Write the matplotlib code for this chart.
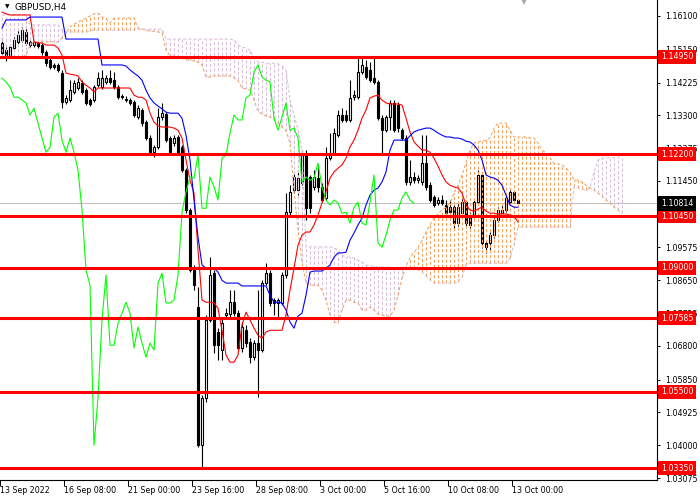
import numpy as np
import matplotlib
matplotlib.use("Agg")
import matplotlib.pyplot as plt

# ---------------- data ----------------
opens = [
    1.1534, 1.1514, 1.1500, 1.1520, 1.1537, 1.1542, 1.1565, 1.1537, 1.1528, 1.1534,
    1.1528, 1.1508, 1.1486, 1.1472, 1.1472, 1.1449, 1.1367, 1.1373, 1.1396, 1.1407,
    1.1421, 1.1401, 1.1373, 1.1373, 1.1415, 1.1410, 1.1424, 1.1435, 1.1429, 1.1410,
    1.1384, 1.1376, 1.1373, 1.1367, 1.1325, 1.1345, 1.1311, 1.1266, 1.1226, 1.1240,
    1.1325, 1.1334, 1.1266, 1.1252, 1.1269, 1.1240, 1.1176, 1.1063, 1.0899, 1.0789,
    1.0400, 1.0533, 1.0753, 1.0885, 1.0719, 1.0668, 1.0767, 1.0770, 1.0803, 1.0772,
    1.0674, 1.0724, 1.0691, 1.0648, 1.0688, 1.0668, 1.0857, 1.0885, 1.0809, 1.0801,
    1.0801, 1.0880, 1.1057, 1.1119, 1.1119, 1.1139, 1.1218, 1.1156, 1.1128, 1.1153,
    1.1128, 1.1097, 1.1209, 1.1224, 1.1274, 1.1331, 1.1331, 1.1317, 1.1381, 1.1381,
    1.1452, 1.1466, 1.1458, 1.1435, 1.1424, 1.1322, 1.1288, 1.1325, 1.1365, 1.1359,
    1.1288, 1.1266, 1.1142, 1.1156, 1.1147, 1.1142, 1.1195, 1.1133, 1.1099, 1.1083,
    1.1091, 1.1077, 1.1071, 1.1071, 1.1026, 1.1054, 1.1085, 1.1049, 1.1049, 1.1085,
    1.1162, 1.0970, 1.0970, 1.0992, 1.1035, 1.1054, 1.1063, 1.1085, 1.1114, 1.1091]

closes = [
    1.1506, 1.1491, 1.1522, 1.1542, 1.1556, 1.1570, 1.1534, 1.1528, 1.1537, 1.1525,
    1.1508, 1.1477, 1.1466, 1.1466, 1.1458, 1.1367, 1.1379, 1.1401, 1.1421, 1.1424,
    1.1396, 1.1365, 1.1362, 1.1410, 1.1435, 1.1435, 1.1435, 1.1424, 1.1410, 1.1381,
    1.1381, 1.1373, 1.1365, 1.1331, 1.1350, 1.1308, 1.1266, 1.1226, 1.1240, 1.1325,
    1.1336, 1.1260, 1.1226, 1.1266, 1.1226, 1.1176, 1.1063, 1.0894, 1.0851, 1.0400,
    1.0533, 1.0753, 1.0880, 1.0682, 1.0682, 1.0744, 1.0772, 1.0803, 1.0772, 1.0674,
    1.0733, 1.0688, 1.0648, 1.0688, 1.0668, 1.0857, 1.0885, 1.0801, 1.0801, 1.0809,
    1.0880, 1.1057, 1.1114, 1.1156, 1.1153, 1.1218, 1.1068, 1.1068, 1.1156, 1.1128,
    1.1091, 1.1209, 1.1218, 1.1280, 1.1331, 1.1317, 1.1317, 1.1379, 1.1387, 1.1452,
    1.1472, 1.1438, 1.1429, 1.1424, 1.1322, 1.1288, 1.1325, 1.1365, 1.1288, 1.1294,
    1.1266, 1.1142, 1.1156, 1.1147, 1.1153, 1.1195, 1.1128, 1.1091, 1.1077, 1.1091,
    1.1083, 1.1054, 1.1057, 1.1026, 1.1071, 1.1085, 1.1026, 1.1021, 1.1085, 1.1162,
    1.0970, 1.0958, 1.0992, 1.1035, 1.1063, 1.1063, 1.1097, 1.1114, 1.1091, 1.10814]

highs = [
    1.1548, 1.1522, 1.1528, 1.1551, 1.1570, 1.1579, 1.1576, 1.1542, 1.1542, 1.1539,
    1.1534, 1.1514, 1.1491, 1.1477, 1.1477, 1.1458, 1.1387, 1.1429, 1.1429, 1.1435,
    1.1429, 1.1407, 1.1379, 1.1415, 1.1452, 1.1458, 1.1444, 1.1458, 1.1452, 1.1415,
    1.1390, 1.1384, 1.1379, 1.1373, 1.1359, 1.1350, 1.1317, 1.1274, 1.1246, 1.1350,
    1.1365, 1.1339, 1.1271, 1.1274, 1.1274, 1.1246, 1.1181, 1.1068, 1.0908, 1.0846,
    1.0541, 1.0767, 1.0930, 1.0894, 1.0730, 1.0758, 1.0786, 1.0837, 1.0837, 1.0781,
    1.0747, 1.0739, 1.0702, 1.0696, 1.0837, 1.0865, 1.0913, 1.0894, 1.0815, 1.0815,
    1.0888, 1.1111, 1.1133, 1.1170, 1.1176, 1.1232, 1.1232, 1.1162, 1.1176, 1.1190,
    1.1139, 1.1240, 1.1280, 1.1294, 1.1345, 1.1350, 1.1345, 1.1429, 1.1401, 1.1491,
    1.1494, 1.1486, 1.1480, 1.1494, 1.1429, 1.1331, 1.1331, 1.1373, 1.1373, 1.1367,
    1.1294, 1.1274, 1.1204, 1.1170, 1.1162, 1.1274, 1.1274, 1.1142, 1.1105, 1.1099,
    1.1105, 1.1091, 1.1091, 1.1077, 1.1083, 1.1097, 1.1091, 1.1057, 1.1091, 1.1176,
    1.1170, 1.0978, 1.1001, 1.1049, 1.1071, 1.1077, 1.1105, 1.1125, 1.1119, 1.1094]

lows = [
    1.1497, 1.1483, 1.1491, 1.1514, 1.1531, 1.1537, 1.1528, 1.1522, 1.1522, 1.1520,
    1.1500, 1.1469, 1.1460, 1.1460, 1.1452, 1.1350, 1.1362, 1.1367, 1.1390, 1.1401,
    1.1390, 1.1359, 1.1356, 1.1367, 1.1410, 1.1404, 1.1418, 1.1418, 1.1404, 1.1376,
    1.1376, 1.1367, 1.1359, 1.1325, 1.1319, 1.1300, 1.1260, 1.1221, 1.1212, 1.1235,
    1.1317, 1.1255, 1.1221, 1.1243, 1.1218, 1.1170, 1.1054, 1.0888, 1.0837, 1.0395,
    1.0335, 1.0521, 1.0747, 1.0660, 1.0640, 1.0640, 1.0758, 1.0758, 1.0764, 1.0668,
    1.0662, 1.0676, 1.0631, 1.0640, 1.0535, 1.0662, 1.0851, 1.0792, 1.0767, 1.0761,
    1.0795, 1.0871, 1.1049, 1.1111, 1.1105, 1.1133, 1.1035, 1.1054, 1.1119, 1.1114,
    1.1085, 1.1091, 1.1204, 1.1218, 1.1269, 1.1311, 1.1311, 1.1311, 1.1373, 1.1376,
    1.1446, 1.1432, 1.1424, 1.1418, 1.1317, 1.1224, 1.1283, 1.1288, 1.1283, 1.1283,
    1.1260, 1.1133, 1.1133, 1.1139, 1.1139, 1.1133, 1.1119, 1.1085, 1.1071, 1.1077,
    1.1077, 1.1043, 1.1049, 1.1012, 1.1018, 1.1049, 1.1018, 1.1012, 1.1040, 1.1080,
    1.0956, 1.0942, 1.0950, 1.0984, 1.1029, 1.1049, 1.1057, 1.1080, 1.1083, 1.1080]

tenkan = [
    1.1621, 1.1616, 1.1613, 1.1613, 1.1613, 1.1613, 1.1613, 1.1613, 1.1537, 1.1534,
    1.1534, 1.1528, 1.1528, 1.1528, 1.1520, 1.1500, 1.1449, 1.1446, 1.1444, 1.1441,
    1.1424, 1.1415, 1.1407, 1.1396, 1.1407, 1.1407, 1.1407, 1.1407, 1.1407, 1.1407,
    1.1407, 1.1407, 1.1407, 1.1387, 1.1381, 1.1381, 1.1373, 1.1336, 1.1311, 1.1300,
    1.1297, 1.1297, 1.1297, 1.1294, 1.1288, 1.1266, 1.1204, 1.1147, 1.1111, 1.0950,
    1.0809, 1.0803, 1.0803, 1.0801, 1.0786, 1.0724, 1.0654, 1.0634, 1.0634, 1.0654,
    1.0739, 1.0775, 1.0753, 1.0730, 1.0710, 1.0702, 1.0719, 1.0724, 1.0724, 1.0724,
    1.0724, 1.0767, 1.0837, 1.0899, 1.0964, 1.0992, 1.1001, 1.1001, 1.1021, 1.1049,
    1.1083, 1.1114, 1.1153, 1.1170, 1.1181, 1.1190, 1.1209, 1.1241, 1.1260, 1.1288,
    1.1322, 1.1345, 1.1379, 1.1384, 1.1387, 1.1373, 1.1365, 1.1362, 1.1362, 1.1362,
    1.1359, 1.1322, 1.1283, 1.1255, 1.1243, 1.1232, 1.1232, 1.1226, 1.1209, 1.1187,
    1.1162, 1.1142, 1.1133, 1.1128, 1.1125, 1.1111, 1.1077, 1.1063, 1.1060, 1.1066,
    1.1071, 1.1060, 1.1054, 1.1054, 1.1052, 1.1052, 1.1052, 1.1049, 1.1046, 1.1029]

kijun = [
    1.1576, 1.1599, 1.1599, 1.1599, 1.1599, 1.1599, 1.1599, 1.1607, 1.1607, 1.1607,
    1.1607, 1.1607, 1.1607, 1.1607, 1.1607, 1.1607, 1.1545, 1.1545, 1.1545, 1.1545,
    1.1545, 1.1545, 1.1545, 1.1545, 1.1545, 1.1472, 1.1472, 1.1472, 1.1472, 1.1472,
    1.1472, 1.1469, 1.1458, 1.1449, 1.1441, 1.1429, 1.1401, 1.1379, 1.1365, 1.1356,
    1.1348, 1.1339, 1.1336, 1.1336, 1.1336, 1.1322, 1.1274, 1.1204, 1.1091, 1.0987,
    1.0908, 1.0899, 1.0899, 1.0899, 1.0888, 1.0865, 1.0857, 1.0857, 1.0857, 1.0857,
    1.0849, 1.0849, 1.0849, 1.0849, 1.0849, 1.0849, 1.0849, 1.0823, 1.0803, 1.0803,
    1.0801, 1.0781, 1.0747, 1.0730, 1.0764, 1.0772, 1.0823, 1.0888, 1.0891, 1.0891,
    1.0891, 1.0899, 1.0908, 1.0930, 1.0942, 1.0942, 1.0944, 1.0978, 1.0998, 1.1021,
    1.1040, 1.1077, 1.1105, 1.1119, 1.1125, 1.1142, 1.1170, 1.1232, 1.1260, 1.1260,
    1.1260, 1.1260, 1.1272, 1.1283, 1.1288, 1.1291, 1.1294, 1.1294, 1.1288, 1.1280,
    1.1274, 1.1269, 1.1269, 1.1266, 1.1266, 1.1263, 1.1257, 1.1255, 1.1246, 1.1232,
    1.1204, 1.1162, 1.1156, 1.1153, 1.1147, 1.1133, 1.1105, 1.1077, 1.1071, 1.1071]

span_a = [
    1.1494, 1.1494, 1.1494, 1.1494, 1.1494, 1.1494, 1.1500, 1.1528, 1.1537, 1.1537,
    1.1537, 1.1537, 1.1537, 1.1537, 1.1537, 1.1548, 1.1562, 1.1579, 1.1587, 1.1593,
    1.1599, 1.1604, 1.1610, 1.1616, 1.1618, 1.1607, 1.1604, 1.1590, 1.1604, 1.1604,
    1.1604, 1.1604, 1.1604, 1.1604, 1.1576, 1.1573, 1.1570, 1.1567, 1.1567, 1.1565,
    1.1562, 1.1514, 1.1497, 1.1497, 1.1494, 1.1491, 1.1486, 1.1486, 1.1483, 1.1480,
    1.1472, 1.1438, 1.1438, 1.1441, 1.1441, 1.1441, 1.1441, 1.1441, 1.1435, 1.1429,
    1.1407, 1.1404, 1.1401, 1.1373, 1.1342, 1.1334, 1.1328, 1.1325, 1.1319, 1.1308,
    1.1297, 1.1286, 1.1252, 1.1119, 1.1007, 1.0916, 1.0857, 1.0851, 1.0851, 1.0851,
    1.0837, 1.0809, 1.0767, 1.0747, 1.0744, 1.0781, 1.0809, 1.0809, 1.0803, 1.0801,
    1.0781, 1.0781, 1.0789, 1.0781, 1.0770, 1.0767, 1.0764, 1.0764, 1.0781, 1.0823,
    1.0871, 1.0905, 1.0928, 1.0944, 1.0956, 1.0978, 1.1001, 1.1021, 1.1040, 1.1052,
    1.1063, 1.1071, 1.1083, 1.1111, 1.1133, 1.1162, 1.1195, 1.1232, 1.1252, 1.1255,
    1.1257, 1.1260, 1.1266, 1.1294, 1.1308, 1.1308, 1.1308, 1.1288, 1.1269, 1.1269,
    1.1269, 1.1269, 1.1266, 1.1266, 1.1252, 1.1232, 1.1224, 1.1210, 1.1195, 1.1193,
    1.1190, 1.1181, 1.1170, 1.1147, 1.1147, 1.1142, 1.1133, 1.1125, 1.1119, 1.1111,
    1.1102, 1.1091, 1.1083, 1.1071, 1.1063, 1.1054]

span_b = [
    1.1613, 1.1613, 1.1613, 1.1613, 1.1613, 1.1613, 1.1613, 1.1585, 1.1585, 1.1585,
    1.1585, 1.1585, 1.1585, 1.1585, 1.1585, 1.1570, 1.1565, 1.1565, 1.1565, 1.1565,
    1.1565, 1.1565, 1.1568, 1.1570, 1.1570, 1.1570, 1.1570, 1.1570, 1.1570, 1.1570,
    1.1570, 1.1570, 1.1570, 1.1570, 1.1573, 1.1573, 1.1573, 1.1573, 1.1573, 1.1573,
    1.1573, 1.1545, 1.1545, 1.1545, 1.1545, 1.1545, 1.1545, 1.1545, 1.1545, 1.1545,
    1.1545, 1.1545, 1.1545, 1.1545, 1.1545, 1.1545, 1.1545, 1.1545, 1.1542, 1.1528,
    1.1522, 1.1520, 1.1514, 1.1491, 1.1480, 1.1480, 1.1477, 1.1477, 1.1477, 1.1475,
    1.1469, 1.1458, 1.1373, 1.1331, 1.1289, 1.1232, 1.0959, 1.0959, 1.0959, 1.0959,
    1.0959, 1.0959, 1.0959, 1.0956, 1.0950, 1.0936, 1.0930, 1.0930, 1.0928, 1.0922,
    1.0916, 1.0908, 1.0905, 1.0905, 1.0902, 1.0902, 1.0902, 1.0902, 1.0899, 1.0899,
    1.0899, 1.0899, 1.0899, 1.0899, 1.0894, 1.0888, 1.0877, 1.0865, 1.0857, 1.0857,
    1.0857, 1.0857, 1.0857, 1.0857, 1.0860, 1.0874, 1.0908, 1.0913, 1.0913, 1.0913,
    1.0913, 1.0913, 1.0913, 1.0913, 1.0913, 1.0913, 1.0913, 1.0928, 1.0964, 1.1015,
    1.1015, 1.1015, 1.1015, 1.1015, 1.1015, 1.1015, 1.1015, 1.1015, 1.1015, 1.1015,
    1.1015, 1.1015, 1.1015, 1.1128, 1.1125, 1.1122, 1.1119, 1.1125, 1.1170, 1.1204,
    1.1210, 1.1210, 1.1210, 1.1210, 1.1210, 1.1210]

chikou_shift = 26
levels = [1.14950, 1.12200, 1.10450, 1.09000, 1.07585, 1.05500, 1.03350]
last_price = 1.10814
y_ticks = [1.16100, 1.15150, 1.14225, 1.13300, 1.12375, 1.11450,
           1.09575, 1.08650, 1.07725, 1.06800, 1.05850, 1.04925, 1.04000, 1.03075]
x_label_bars = [0, 16, 32, 48, 64, 80, 96, 112, 128]
x_labels = ["13 Sep 2022", "16 Sep 08:00", "21 Sep 00:00", "23 Sep 16:00",
            "28 Sep 08:00", "3 Oct 00:00", "5 Oct 16:00", "10 Oct 08:00",
            "13 Oct 00:00"]
title = "GBPUSD,H4"

# ---------------- drawing ----------------
FS = 5.7
plt.rcParams["font.family"] = ["DejaVu Sans"]

fig = plt.figure(figsize=(7, 5), dpi=100)
fig.patch.set_facecolor("white")
ax = fig.add_axes([0, 20 / 500, 657 / 700, 480 / 500])
ax.set_facecolor("white")
ax.set_xlim(-0.5, 163.75)
ax.set_ylim(1.03019, 1.16551)

o = np.array(opens); c = np.array(closes)
h = np.array(highs); l = np.array(lows)
idx = np.arange(len(c))

# current price line
ax.axhline(last_price, color="#C0C0C0", lw=0.75, zorder=1)

# candles
ax.vlines(idx, l, h, color="black", lw=0.8, zorder=2)
bull = c >= o
body_lo = np.minimum(o, c)
body_h = np.maximum(np.abs(c - o), 1e-6)
ax.bar(idx, body_h, bottom=body_lo, width=0.55,
       color=np.where(bull, "white", "black"), edgecolor="black",
       linewidth=0.8, zorder=3)

# Ichimoku cloud (hatched with vertical dashes)
a = np.array(span_a); b = np.array(span_b)
cx = np.arange(len(a))
up = a >= b
cols = np.where(up, "#F4A460", "#D8BFD8")
dash = (0, (3, 2))
ax.vlines(cx, np.minimum(a, b), np.maximum(a, b), colors=cols,
          linestyles=dash, lw=0.75, zorder=4)
ax.plot(cx, a, color="#F4A460", ls=dash, lw=0.75, zorder=4)
ax.plot(cx, b, color="#D8BFD8", ls=dash, lw=0.75, zorder=4)

# Tenkan, Kijun, Chikou
ax.plot(idx, tenkan, color="#FF0000", lw=0.8, zorder=5)
ax.plot(idx, kijun, color="#0000FF", lw=0.8, zorder=5)
ax.plot(idx[chikou_shift:] - chikou_shift, c[chikou_shift:],
        color="#00FF00", lw=0.8, zorder=5)

# level lines
for lv in levels:
    ax.axhline(lv, color="#FF0000", lw=2.2, zorder=6)

# axes styling
for s in ["left", "top"]:
    ax.spines[s].set_visible(False)
for s in ["right", "bottom"]:
    ax.spines[s].set_color("black")
    ax.spines[s].set_linewidth(0.8)

ax.yaxis.tick_right()
ax.set_yticks(y_ticks)
ax.set_yticklabels([f"{v:.5f}" for v in y_ticks], fontsize=FS)
ax.tick_params(axis="y", direction="out", length=2.5, width=0.7, pad=3,
               colors="black")
ax.set_xticks(np.array(x_label_bars) - 0.5)
ax.set_xticklabels(x_labels, fontsize=FS, ha="left")
ax.tick_params(axis="x", direction="out", length=4, width=0.7, pad=0.5,
               colors="black")

# price labels on the right
for lv in levels:
    ax.text(1.006, lv, f"{lv:.5f}", transform=ax.get_yaxis_transform(),
            fontsize=FS, color="white", va="center", ha="left", zorder=20,
            clip_on=False,
            bbox=dict(boxstyle="square,pad=0.32", fc="#FF0000", ec="none"))
ax.text(1.006, last_price, f"{last_price:.5f}", transform=ax.get_yaxis_transform(),
        fontsize=FS, color="white", va="center", ha="left", zorder=21,
        clip_on=False,
        bbox=dict(boxstyle="square,pad=0.32", fc="black", ec="none"))

# title with small triangle
ax.text(0.008, 0.985, "\u25BC", transform=ax.transAxes, fontsize=4.2,
        va="center", ha="left", color="black", zorder=22)
ax.text(0.022, 0.985, title, transform=ax.transAxes, fontsize=6.4,
        va="center", ha="left", color="black", zorder=22)

# chart shift marker at the top
ax.plot([130.5], [1.16551 - 0.0002], marker="v", ms=5.5, color="#A9A9A9",
        zorder=22, clip_on=False, markeredgewidth=0)

fig.savefig("out.png", dpi=100, facecolor="white")
